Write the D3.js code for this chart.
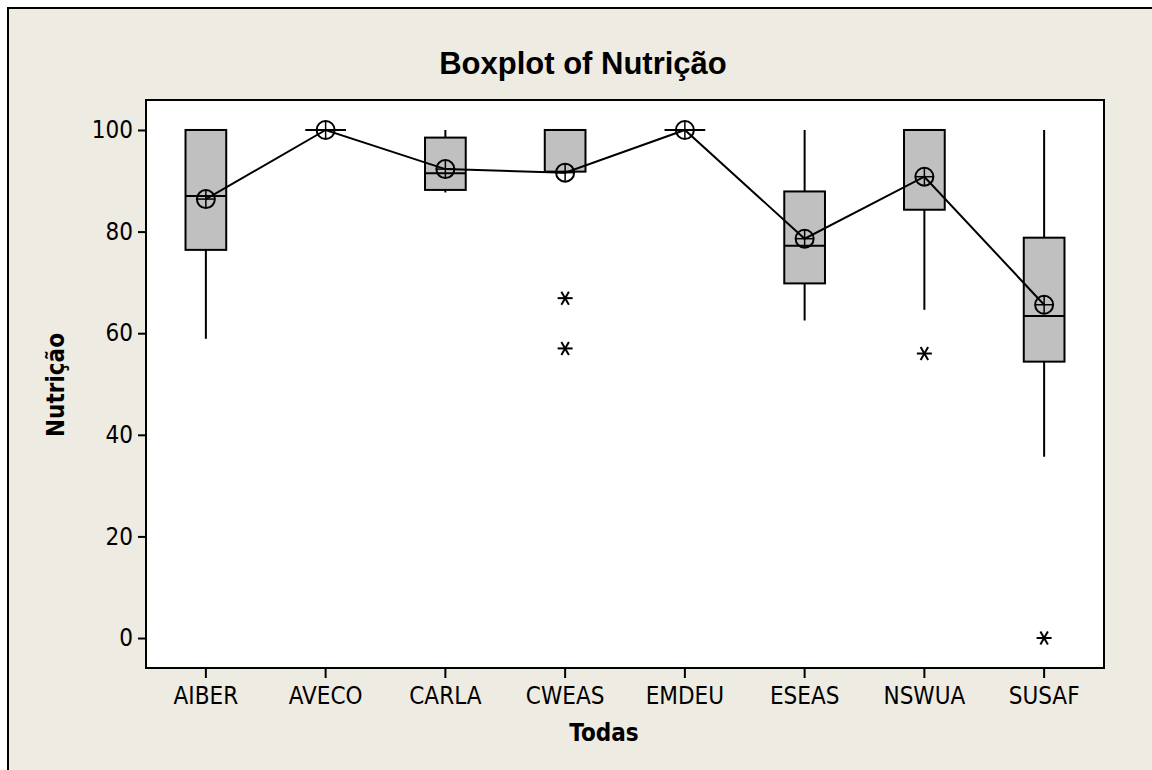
<!DOCTYPE html>
<html>
<head>
<meta charset="utf-8">
<script src="https://cdn.jsdelivr.net/npm/d3@7"></script>
<style>
  body { margin: 0; background: #ffffff; }
</style>
</head>
<body>
<div id="graphe"></div>
<script>
//----------------------------------------------------------------
// donnees lues sur le boxplot
//----------------------------------------------------------------
var categories = ["AIBER", "AVECO", "CARLA", "CWEAS", "EMDEU", "ESEAS", "NSWUA", "SUSAF"];
var q1 = [76.4, 100, 88.2, 91.8, 100, 69.8, 84.3, 54.4];
var mediane = [87.0, 100, 91.5, 100, 100, 77.2, 100, 63.4];
var q3 = [100, 100, 98.5, 100, 100, 87.9, 100, 78.8];
var moustacheBas = [58.9, 100, 87.7, 91.8, 100, 62.5, 64.6, 35.7];
var moustacheHaut = [100, 100, 100, 100, 100, 100, 100, 100];
var moyenne = [86.4, 100, 92.3, 91.6, 100, 78.6, 90.8, 65.6];
var aberrants = [[], [], [], [66.9, 57.0], [], [], [56.0], [0]];
var yTicks = [0, 20, 40, 60, 80, 100];

//----------------------------------------------------------------
// crée le svg
var largeur = 1152, hauteur = 770;
var svg = d3.select("#graphe")
  .append("svg")
  .attr("width", largeur)
  .attr("height", hauteur);

var fontTexte = "'DejaVu Sans', Tahoma, sans-serif";

// cadre beige de la figure
svg.append("rect")
  .attr("x", 8).attr("y", 8)
  .attr("width", 1160).attr("height", 800)
  .attr("fill", "#eeebe2")
  .attr("stroke", "#000")
  .attr("stroke-width", 2);

// zone du graphe
var gauche = 146, haut = 100, droite = 1104, bas = 668;

svg.append("rect")
  .attr("x", gauche).attr("y", haut)
  .attr("width", droite - gauche).attr("height", bas - haut)
  .attr("fill", "#ffffff");

var x = d3.scaleBand()
  .domain(categories)
  .range([gauche, droite])
  .padding(0);

var y = d3.scaleLinear()
  .domain([-5.9, 105.9])
  .range([bas, haut]);

var largBoite = x.bandwidth() * 0.34;
function cx(i) { return x(categories[i]) + x.bandwidth() / 2; }

//----------------------------------------------------------------
// axes
//----------------------------------------------------------------
var axeY = svg.append("g")
  .attr("transform", "translate(" + gauche + ",0)")
  .call(d3.axisLeft(y).tickValues(yTicks).tickSize(8).tickPadding(5));
axeY.select(".domain").remove();

var axeX = svg.append("g")
  .attr("transform", "translate(0," + bas + ")")
  .call(d3.axisBottom(x).tickSize(10).tickPadding(9));
axeX.select(".domain").remove();

svg.selectAll(".tick line").attr("stroke", "#000").attr("stroke-width", 2);
svg.selectAll(".tick text")
  .attr("fill", "#000")
  .style("font-family", fontTexte)
  .style("font-stretch", "condensed")
  .style("font-size", "24px");

// titre et libellés
svg.append("text")
  .attr("x", 583).attr("y", 74)
  .attr("text-anchor", "middle")
  .style("font-family", "'Liberation Sans', Arial, sans-serif")
  .style("font-weight", "bold")
  .style("font-size", "31px")
  .text("Boxplot of Nutrição");

svg.append("text")
  .attr("x", 604).attr("y", 741)
  .attr("text-anchor", "middle")
  .style("font-family", fontTexte)
  .style("font-stretch", "condensed")
  .style("font-weight", "bold")
  .style("font-size", "24px")
  .text("Todas");

svg.append("text")
  .attr("transform", "translate(64,385) rotate(-90)")
  .attr("text-anchor", "middle")
  .style("font-family", fontTexte)
  .style("font-stretch", "condensed")
  .style("font-weight", "bold")
  .style("font-size", "24px")
  .text("Nutrição");

//----------------------------------------------------------------
// boites et moustaches
//----------------------------------------------------------------
var g = svg.append("g");

categories.forEach(function(c, i) {
  // moustache
  g.append("line")
    .attr("x1", cx(i)).attr("x2", cx(i))
    .attr("y1", y(moustacheBas[i])).attr("y2", y(moustacheHaut[i]))
    .attr("stroke", "#000").attr("stroke-width", 2);
  // boite
  g.append("rect")
    .attr("x", cx(i) - largBoite / 2)
    .attr("y", y(q3[i]))
    .attr("width", largBoite)
    .attr("height", y(q1[i]) - y(q3[i]))
    .attr("fill", "#c0c0c0")
    .attr("stroke", "#000").attr("stroke-width", 2);
  // mediane
  g.append("line")
    .attr("x1", cx(i) - largBoite / 2).attr("x2", cx(i) + largBoite / 2)
    .attr("y1", y(mediane[i])).attr("y2", y(mediane[i]))
    .attr("stroke", "#000").attr("stroke-width", 2);
  // valeurs aberrantes : asterisques
  aberrants[i].forEach(function(v) {
    [0, 60, 120].forEach(function(a) {
      var r = 7.5, t = a * Math.PI / 180;
      g.append("line")
        .attr("x1", cx(i) - r * Math.cos(t)).attr("y1", y(v) - r * Math.sin(t))
        .attr("x2", cx(i) + r * Math.cos(t)).attr("y2", y(v) + r * Math.sin(t))
        .attr("stroke", "#000").attr("stroke-width", 2);
    });
  });
});

// ligne des moyennes
var ligne = d3.line()
  .x(function(d, i) { return cx(i); })
  .y(function(d) { return y(d); });

g.append("path")
  .datum(moyenne)
  .attr("d", ligne)
  .attr("fill", "none")
  .attr("stroke", "#000")
  .attr("stroke-width", 2);

// symboles des moyennes (cercle avec croix)
var sym = g.selectAll(".moyenne")
  .data(moyenne)
  .enter()
  .append("g")
  .attr("class", "moyenne")
  .attr("transform", function(d, i) { return "translate(" + cx(i) + "," + y(d) + ")"; });
sym.append("circle")
  .attr("r", 9)
  .attr("fill", "none")
  .attr("stroke", "#000").attr("stroke-width", 2);
sym.append("line")
  .attr("x1", -9).attr("x2", 9)
  .attr("stroke", "#000").attr("stroke-width", 1.5);
sym.append("line")
  .attr("y1", -9).attr("y2", 9)
  .attr("stroke", "#000").attr("stroke-width", 1.5);

// bordure du graphe
svg.append("rect")
  .attr("x", gauche).attr("y", haut)
  .attr("width", droite - gauche).attr("height", bas - haut)
  .attr("fill", "none")
  .attr("stroke", "#000")
  .attr("stroke-width", 2);
</script>
</body>
</html>
